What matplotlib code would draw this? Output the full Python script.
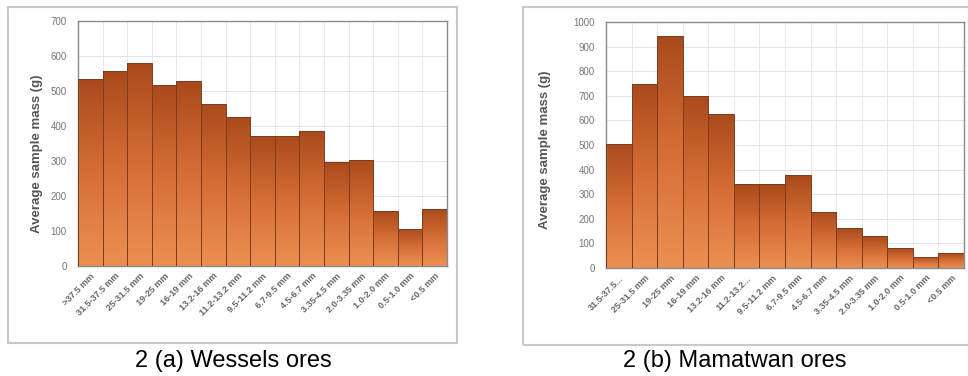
import matplotlib.pyplot as plt
import numpy as np
from matplotlib.colors import LinearSegmentedColormap
from matplotlib.patches import Rectangle

wessels_sizes = [">37.5 mm", "31.5-37.5 mm", "25-31.5 mm", "19-25 mm", "16-19 mm",
                 "13.2-16 mm", "11.2-13.2 mm", "9.5-11.2 mm", "6.7-9.5 mm", "4.5-6.7 mm",
                 "3.35-4.5 mm", "2.0-3.35 mm", "1.0-2.0 mm", "0.5-1.0 mm", "<0.5 mm"]
wessels_mass = [534, 556, 580, 517, 528, 463, 425, 371, 371, 387, 297, 303, 158, 107, 162]

mamatwan_sizes = ["31.5-37.5...", "25-31.5 mm", "19-25 mm", "16-19 mm", "13.2-16 mm",
                  "11.2-13.2...", "9.5-11.2 mm", "6.7-9.5 mm", "4.5-6.7 mm", "3.35-4.5 mm",
                  "2.0-3.35 mm", "1.0-2.0 mm", "0.5-1.0 mm", "<0.5 mm"]
mamatwan_mass = [503, 748, 943, 700, 626, 340, 340, 378, 228, 161, 130, 80, 46, 60]

plt.rcParams["font.family"] = ["Liberation Sans", "DejaVu Sans"]

grad = LinearSegmentedColormap.from_list("ore", ["#ec9052", "#d66e36", "#aa4a1c"])


def draw_panel(ax, labels, values, ymax, label_xy):
    x = np.arange(len(values))
    bars = ax.bar(x, values, width=1.0, color="none", edgecolor="#7a3e1e", linewidth=0.7, zorder=3)
    for b in bars:
        h = b.get_height()
        # each bar shaded dark at its top, light at the base
        img = ax.imshow(np.linspace(0, 1, 100).reshape(-1, 1), cmap=grad, aspect="auto",
                        origin="lower", extent=[b.get_x(), b.get_x() + b.get_width(), 0, h],
                        zorder=2)
        img.set_clip_path(b)
    ax.set_xlim(-0.5, len(values) - 0.5)
    ax.set_ylim(0, ymax)
    ax.set_yticks(np.arange(0, ymax + 1, 100))
    ax.set_xticks(x)
    ax.set_xticklabels(labels, rotation=45, ha="right", rotation_mode="anchor",
                       fontsize=6.5, color="#666666", fontweight="bold")
    ax.tick_params(axis="y", labelsize=7, colors="#777777", length=0, pad=8)
    ax.tick_params(axis="x", length=0, pad=4)
    ax.set_xticks(x[:-1] + 0.5, minor=True)
    ax.grid(True, which="major", axis="y", color="#e4e4e4", linewidth=0.7, zorder=0)
    ax.grid(True, which="minor", axis="x", color="#e8e8e8", linewidth=0.7, zorder=0)
    ax.tick_params(which="minor", length=0)
    for s in ax.spines.values():
        s.set_color("#8a8a8a")
        s.set_linewidth(1.0)
    ax.set_ylabel("Average sample mass (g)", fontsize=9.5, fontweight="bold", color="#555555")
    ax.yaxis.set_label_coords(*label_xy)


fig = plt.figure(figsize=(9.68, 3.76), dpi=100)

# chart area frames
fig.patches.append(Rectangle((8 / 968, 1 - 343 / 376), 449 / 968, 336 / 376,
                             transform=fig.transFigure, fill=False,
                             edgecolor="#c8c8c8", linewidth=1.5))
fig.patches.append(Rectangle((523 / 968, 1 - 345 / 376), 450 / 968, 338 / 376,
                             transform=fig.transFigure, fill=False,
                             edgecolor="#c8c8c8", linewidth=1.5))

ax1 = fig.add_axes([78 / 968, 1 - 266 / 376, 369 / 968, 245 / 376])
draw_panel(ax1, wessels_sizes, wessels_mass, 700, (-0.095, 0.457))

ax2 = fig.add_axes([606 / 968, 1 - 268 / 376, 358 / 968, 246 / 376])
draw_panel(ax2, mamatwan_sizes, mamatwan_mass, 1000, (-0.154, 0.48))

fig.text(233 / 968, 1 - 361 / 376, "2 (a) Wessels ores", ha="center", va="center", fontsize=17)
fig.text(735 / 968, 1 - 361 / 376, "2 (b) Mamatwan ores", ha="center", va="center", fontsize=17)

fig.savefig("out.png", dpi=100)
